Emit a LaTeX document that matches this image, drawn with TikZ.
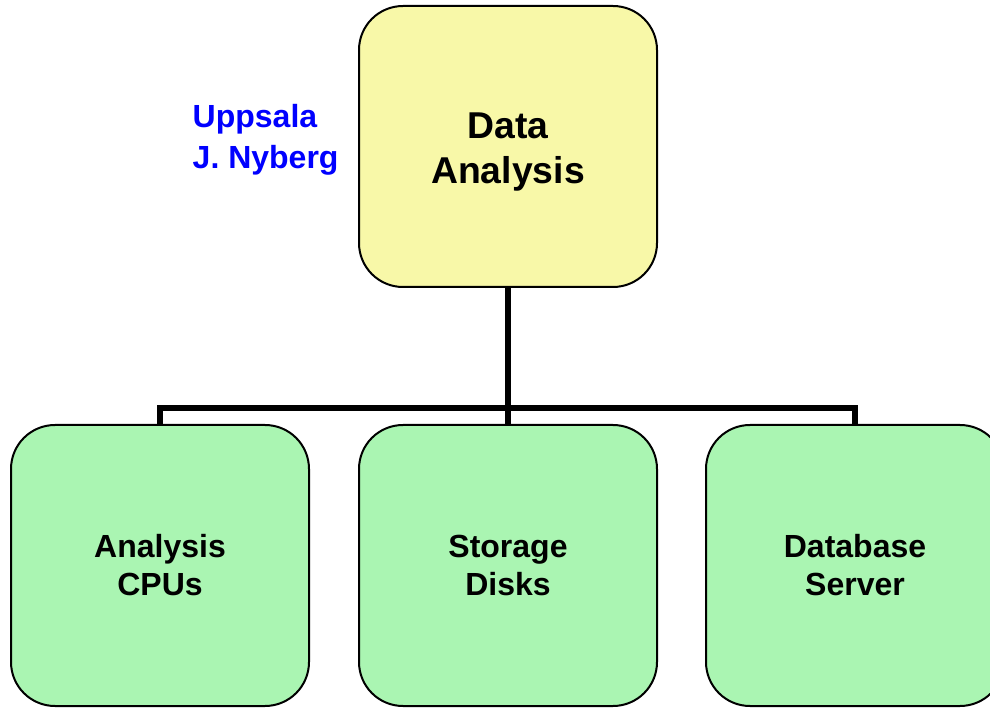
\documentclass[tikz,border=0pt]{standalone}
\usepackage{fontspec}
\setmainfont{Liberation Sans}
\usetikzlibrary{positioning}

\definecolor{boxyellow}{RGB}{248,248,168}
\definecolor{boxgreen}{RGB}{170,245,178}

\tikzset{
    unitbox/.style={draw=black, line width=1.5pt, rounded corners=33pt,
        minimum width=223.5pt, minimum height=210.75pt, align=center,
        font=\bfseries\fontsize{24}{28.5}\selectfont},
    topbox/.style={unitbox, fill=boxyellow},
    subbox/.style={unitbox, fill=boxgreen},
    link/.style={line width=4.5pt, line join=miter}
}

\begin{document}
\begin{tikzpicture}[x=0.75pt, y=-0.75pt]
    \clip (0,0) rectangle (990,709);
    \useasboundingbox (0,0) rectangle (990,709);
    % top of the chart
    \node[topbox, label={[name=analysistext, yshift=-4pt, align=center,
            font=\bfseries\fontsize{28}{33.5}\selectfont]center:Data\\Analysis}]
        (analysis) at (508,146.5) {};
    \node[font=\bfseries\fontsize{24}{30.75}\selectfont, text=blue, align=left, anchor=west]
        (site) at (188,139.5) {Uppsala\\J. Nyberg};
    % second row
    \node[subbox] (storage) at (508,565.5) {Storage\\Disks};
    \node[subbox, left=36pt of storage] (cpus) {Analysis\\CPUs};
    \node[subbox, right=35.25pt of storage] (dbserver) {Database\\Server};
    \coordinate (hub) at (508,408);
    \draw[link] (analysis.south) -- (storage.north);
    \draw[link] (cpus.north) |- (hub) -| (dbserver.north);
\end{tikzpicture}
\end{document}
